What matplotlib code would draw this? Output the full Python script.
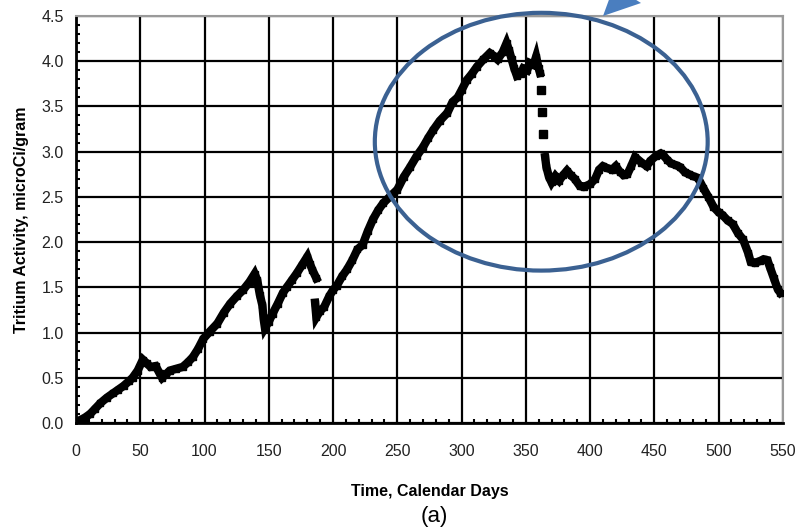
import numpy as np
import matplotlib
matplotlib.use('Agg')
import matplotlib.pyplot as plt
from matplotlib.patches import Ellipse, Polygon

plt.rcParams['font.family'] = ['Liberation Sans', 'DejaVu Sans']

nan = float('nan')

# Tritium activity readings (day, microCi/gram), NaN marks a break in the record
days = [0, 3, 7, 11, 15, 19, 24, 29, 33, 37, 41, 44, 48, 52, 55, 58, 62, 65, 67, 70,
        73, 78, 83, 87, 91, 95, 99, 104, 110, 115, 120, 125, 130, 135, 139, 141, 143, 145, 146, 147,
        150, 153, 157, 161, 164, 168, 172, 176, 180, 182, 184, 187, nan,
        186, 187, 190, 193, 197, 200, 203, 207, 211, 215, 219, 223, 227, 231, 235, 239, 244, 250,
        255, 260, 265, 270, 274, 278, 283, 289, 293, 297, 300, 304, 308, 312, 317, 322, 325, 328,
        332, 335, 337, 339, 341, 343, 346, 348, 351, 353, 356, 358, 360, 361, nan,
        365, 366, 368, 370, 373, 376, 379, 382, 385, 388, 392, 395, 400, 404, 407, 410, 413, 417,
        420, 423, 426, 429, 432, 435, 440, 444, 447, 451, 455, 457, 460, 463, 467, 470, 474, 477,
        480, 484, 488, 492, 496, 500, 503, 507, 511, 515, 519, 523, 525, 528, 532, 535, 538, 540,
        543, 546, 548]
activity = [0.00, 0.03, 0.06, 0.10, 0.16, 0.22, 0.28, 0.33, 0.37, 0.41, 0.46, 0.50, 0.58, 0.70, 0.66, 0.62, 0.63, 0.55, 0.50, 0.54,
            0.58, 0.60, 0.62, 0.67, 0.73, 0.82, 0.93, 1.01, 1.10, 1.22, 1.32, 1.40, 1.47, 1.56, 1.65, 1.58, 1.42, 1.30, 1.15, 1.05,
            1.12, 1.21, 1.32, 1.44, 1.50, 1.58, 1.66, 1.75, 1.84, 1.76, 1.69, 1.60, nan,
            1.33, 1.17, 1.24, 1.28, 1.40, 1.47, 1.52, 1.62, 1.70, 1.80, 1.92, 1.97, 2.12, 2.25, 2.35, 2.43, 2.50, 2.58,
            2.72, 2.83, 2.95, 3.05, 3.15, 3.24, 3.34, 3.43, 3.55, 3.60, 3.68, 3.79, 3.86, 3.94, 4.02, 4.09, 4.06, 4.02,
            4.10, 4.20, 4.12, 4.02, 3.92, 3.84, 3.86, 3.92, 3.90, 3.98, 3.96, 4.05, 3.92, 3.87, nan,
            2.94, 2.83, 2.72, 2.66, 2.73, 2.68, 2.74, 2.79, 2.74, 2.70, 2.62, 2.61, 2.64, 2.70, 2.80, 2.84, 2.82, 2.80,
            2.84, 2.78, 2.74, 2.75, 2.84, 2.94, 2.88, 2.84, 2.90, 2.95, 2.98, 2.96, 2.91, 2.87, 2.85, 2.83, 2.77, 2.75,
            2.73, 2.71, 2.60, 2.50, 2.39, 2.33, 2.30, 2.24, 2.20, 2.10, 2.03, 1.88, 1.78, 1.77, 1.79, 1.81, 1.80, 1.72,
            1.60, 1.48, 1.44]

# isolated readings during the sharp drop
drop_days = [361.5, 362.5, 363]
drop_activity = [3.68, 3.44, 3.19]

x_ticks = list(range(0, 551, 50))
y_ticks = [0.0, 0.5, 1.0, 1.5, 2.0, 2.5, 3.0, 3.5, 4.0, 4.5]

fig = plt.figure(figsize=(7.96, 5.31), dpi=100)
ax = fig.add_axes([0.0955, 0.2034, 0.888, 0.7665])

ax.plot(days, activity, color='black', lw=6, marker='s', ms=5,
        solid_joinstyle='miter', zorder=3)
ax.plot(drop_days, drop_activity, ls='none', color='black', marker='s', ms=5.5, zorder=3)

ax.set_xlim(0, 550)
ax.set_ylim(0, 4.5)
ax.set_xticks(x_ticks)
ax.set_yticks(y_ticks)
ax.set_yticklabels(['%.1f' % v for v in y_ticks])
ax.set_xticks(np.arange(0, 551, 10), minor=True)
ax.set_yticks(np.arange(0, 4.51, 0.1), minor=True)

ax.grid(True, which='major', color='black', lw=1.6, zorder=1)
ax.tick_params(which='major', length=0, labelsize=11.5, colors='#222222')
ax.tick_params(axis='x', which='major', pad=15)
ax.tick_params(axis='y', which='major', pad=9)
ax.tick_params(which='minor', direction='in', length=3, width=1.5, color='black')

for side in ['left', 'bottom']:
    ax.spines[side].set_linewidth(2)
    ax.spines[side].set_color('black')
for side in ['top', 'right']:
    ax.spines[side].set_linewidth(1.5)
    ax.spines[side].set_color('#9a9a9a')

ax.set_xlabel('Time, Calendar Days', fontsize=11.5, fontweight='bold', labelpad=18)
ax.set_ylabel('Tritium Activity, microCi/gram', fontsize=11.5, fontweight='bold', labelpad=9)
fig.text(0.545, 0.028, '(a)', fontsize=16, ha='center', va='center')

# highlight ellipse around the drop
ax.add_patch(Ellipse((362, 3.11), 259, 2.85, fill=False, ec='#3b6192', lw=3,
                     clip_on=False, zorder=4))

# arrow head at the top, in figure pixels
W, H = 796, 531
tri = [(603, 16), (641, 3), (614, -14)]
fig.patches.append(Polygon([(px / W, 1 - py / H) for px, py in tri], closed=True,
                           transform=fig.transFigure, fc='#4a7ebf', ec='none', figure=fig))

fig.savefig('out.png', dpi=100)
